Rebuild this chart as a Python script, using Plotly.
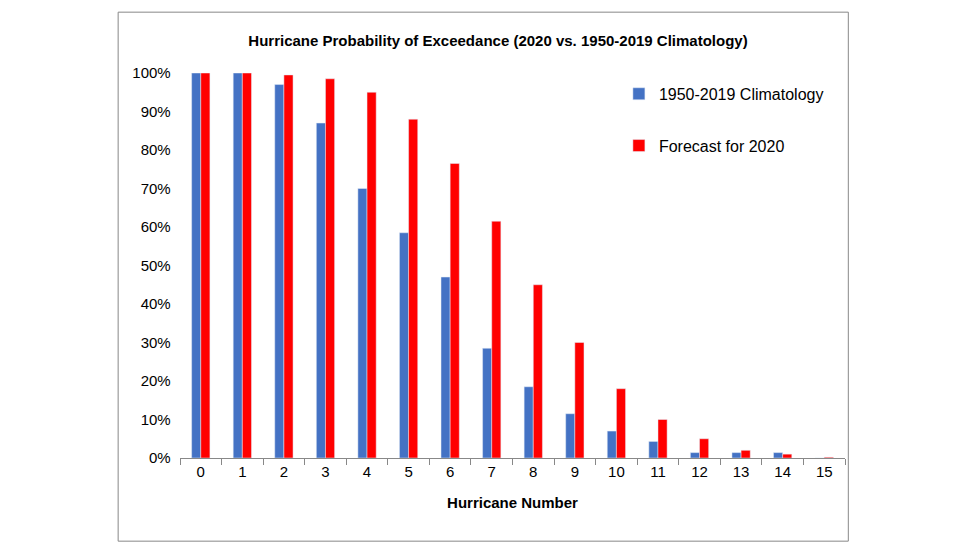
import plotly.graph_objects as go

categories = [str(i) for i in range(16)]
climatology = [1.00, 1.00, 0.97, 0.87, 0.70, 0.585, 0.47, 0.285, 0.185, 0.115, 0.07, 0.043, 0.014, 0.014, 0.014, 0.0]
forecast = [1.00, 1.00, 0.995, 0.985, 0.95, 0.88, 0.765, 0.615, 0.45, 0.30, 0.18, 0.10, 0.05, 0.02, 0.01, 0.002]

fig = go.Figure()
fig.add_trace(go.Bar(x=categories, y=climatology, name="1950-2019 Climatology", marker_color="#4472C4", legendgroup="a"))
fig.add_trace(go.Bar(x=categories, y=forecast, name="Forecast for 2020", marker_color="#FF0000", legendgroup="b"))

fig.update_layout(
    width=980, height=551, paper_bgcolor="white", plot_bgcolor="white",
    margin=dict(l=172, r=143, t=65, b=101),
    barmode="group", bargap=0.56, bargroupgap=0.0,
    font=dict(family="Liberation Sans, Arial", size=15, color="black"),
    title=dict(text="<b>Hurricane Probability of Exceedance (2020 vs. 1950-2019 Climatology)</b>",
               x=0.5, xanchor="center", y=0.94, yanchor="middle", font=dict(size=15)),
    legend=dict(x=0.66, y=0.99, xanchor="left", yanchor="top", tracegroupgap=28,
                font=dict(size=16), bgcolor="rgba(0,0,0,0)"),
    showlegend=True,
    xaxis=dict(title=dict(text="<b>Hurricane Number</b>", font=dict(size=15), standoff=18),
               showline=True, linecolor="#888", ticks="outside", tickson="boundaries",
               ticklen=6, tickcolor="#888", tickfont=dict(size=15)),
    yaxis=dict(range=[0, 1.0], dtick=0.1, tickformat=".0%", showgrid=False,
               zeroline=False, tickfont=dict(size=15), ticksuffix="  "),
    shapes=[dict(type="rect", xref="paper", yref="paper", x0=-0.093, x1=1.005,
                 y0=-0.216, y1=1.158, line=dict(color="#888", width=1))],
)
fig.write_html("out.html")
